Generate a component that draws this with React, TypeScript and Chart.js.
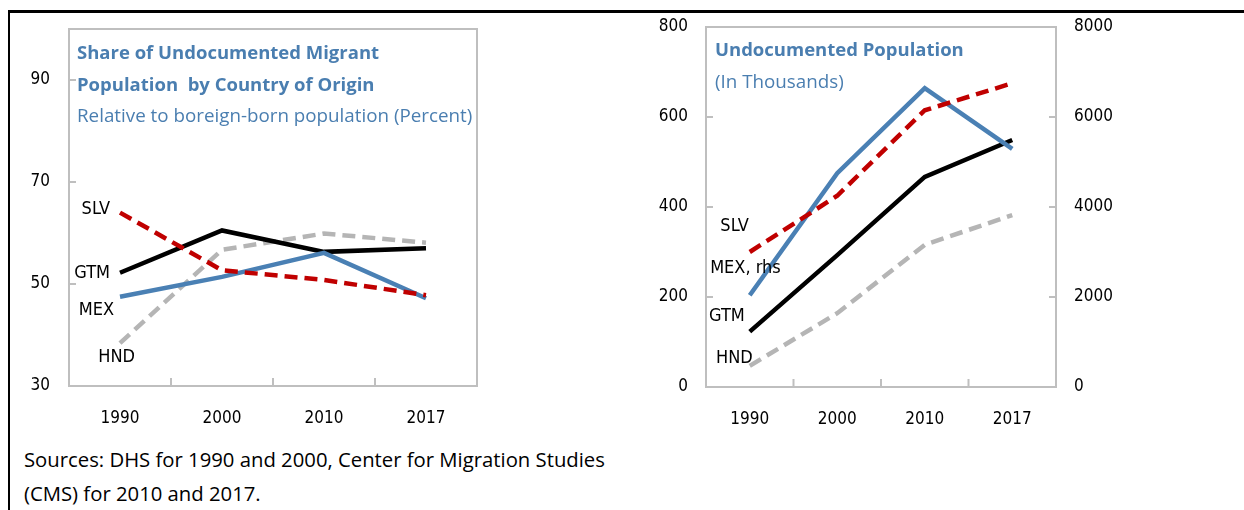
import React, { useEffect, useRef } from 'react';
import { Chart, registerables } from 'chart.js';

Chart.register(...registerables);

// ---------- data ----------
const years = ['1990', '2000', '2010', '2017'];

// Left panel: share of undocumented migrants (percent)
const shareSLV = [64.0, 52.7, 50.8, 47.8];
const shareMEX = [47.5, 51.4, 56.1, 47.2];
const shareGTM = [52.2, 60.5, 56.3, 57.0];
const shareHND = [38.4, 56.7, 59.9, 58.1];
const shareTicks = [30, 50, 70, 90];

// Right panel: undocumented population (thousands); MEX on right axis
const popSLV = [300, 425, 615, 675];
const popMEX = [2040, 4750, 6640, 5290];
const popGTM = [123, 293, 467, 549];
const popHND = [47, 164, 316, 382];
const popTicksL = [0, 200, 400, 600, 800];
const popTicksR = [0, 2000, 4000, 6000, 8000];

// ---------- styles ----------
const FONT = "'Open Sans', 'Noto Sans', sans-serif";
const NARROW = "'Liberation Sans Narrow', 'DejaVu Sans Condensed', 'Open Sans', sans-serif";
const BLUE = '#4A80B4';
const TITLE_BLUE = '#4A7EB0';
const RED = '#C00000';
const GRAY = '#B5B5B5';
const FRAME = '#BFBFBF';
const DASH = [13, 7];

type SeriesLabel = { text: string; ds: number; dx: number; dy: number };

function makeFramePlugin() {
  return {
    id: 'frameTicks',
    beforeDatasetsDraw(chart: any) {
      const { ctx, chartArea: a, scales } = chart;
      ctx.save();
      ctx.strokeStyle = FRAME;
      ctx.lineWidth = 2;
      ctx.strokeRect(a.left, a.top, a.right - a.left, a.bottom - a.top);
      const seg = (x1: number, y1: number, x2: number, y2: number) => {
        ctx.beginPath();
        ctx.moveTo(x1, y1);
        ctx.lineTo(x2, y2);
        ctx.stroke();
      };
      const y = scales.y;
      y.ticks.forEach((t: any) => {
        const py = y.getPixelForValue(t.value);
        if (py > a.top + 1 && py < a.bottom - 1) {
          seg(a.left, py, a.left + 7, py);
          if (scales.y2) seg(a.right - 7, py, a.right, py);
        }
      });
      const x = scales.x;
      for (let i = 0; i < x.ticks.length - 1; i++) {
        const px = (x.getPixelForTick(i) + x.getPixelForTick(i + 1)) / 2;
        seg(px, a.bottom, px, a.bottom - 8);
      }
      ctx.restore();
    },
  };
}

function makeLabelPlugin(labels: SeriesLabel[]) {
  return {
    id: 'seriesLabels',
    afterDatasetsDraw(chart: any) {
      const { ctx } = chart;
      ctx.save();
      ctx.fillStyle = '#000';
      ctx.font = `18px ${NARROW}`;
      ctx.textAlign = 'right';
      ctx.textBaseline = 'middle';
      labels.forEach((l) => {
        const pt = chart.getDatasetMeta(l.ds).data[0];
        ctx.fillText(l.text, pt.x + l.dx, pt.y + l.dy);
      });
      ctx.restore();
    },
  };
}

const line = (data: number[], color: string, dashed: boolean, yAxisID = 'y') => ({
  data,
  borderColor: color,
  backgroundColor: color,
  borderWidth: 4.5,
  borderDash: dashed ? DASH : [],
  pointRadius: 0,
  tension: 0,
  fill: false,
  yAxisID,
});

const tickFont = { family: NARROW, size: 17 };

const fixY = (w: number) => (s: any) => {
  s.width = w;
  s.paddingTop = 0;
  s.paddingBottom = 0;
};
const fixX = (h: number) => (s: any) => {
  s.height = h;
  s.paddingLeft = 0;
  s.paddingRight = 0;
};

export default function App() {
  const leftRef = useRef<HTMLCanvasElement>(null);
  const rightRef = useRef<HTMLCanvasElement>(null);

  useEffect(() => {
    document.body.style.margin = '0';
    const left = new Chart(leftRef.current!, {
      type: 'line',
      data: {
        labels: years,
        datasets: [
          line(shareSLV, RED, true),
          line(shareMEX, BLUE, false),
          line(shareGTM, '#000', false),
          line(shareHND, GRAY, true),
        ] as any,
      },
      options: {
        responsive: false,
        animation: false,
        layout: { padding: { top: 15, right: 143, left: 0, bottom: 0 } },
        plugins: { legend: { display: false }, tooltip: { enabled: false } },
        scales: {
          x: {
            offset: true,
            grid: { display: false, drawTicks: false },
            border: { display: false },
            ticks: { padding: 22, color: '#000', font: tickFont, maxRotation: 0 },
            afterFit: fixX(54),
          },
          y: {
            min: 30,
            max: 100,
            afterBuildTicks: (s: any) => { s.ticks = shareTicks.map((v) => ({ value: v })); },
            grid: { display: false, drawTicks: false },
            border: { display: false },
            ticks: { padding: 19, color: '#000', font: tickFont },
            afterFit: fixY(59),
          },
        },
      } as any,
      plugins: [
        makeFramePlugin(),
        makeLabelPlugin([
          { text: 'SLV', ds: 0, dx: -10, dy: -3 },
          { text: 'GTM', ds: 2, dx: -10, dy: 1 },
          { text: 'MEX', ds: 1, dx: -6, dy: 14 },
          { text: 'HND', ds: 3, dx: 15, dy: 14 },
        ]),
      ],
    });

    const right = new Chart(rightRef.current!, {
      type: 'line',
      data: {
        labels: years,
        datasets: [
          line(popSLV, RED, true),
          line(popMEX, BLUE, false, 'y2'),
          line(popGTM, '#000', false),
          line(popHND, GRAY, true),
        ] as any,
      },
      options: {
        responsive: false,
        animation: false,
        layout: { padding: { top: 13, right: 128, left: 0, bottom: 0 } },
        plugins: { legend: { display: false }, tooltip: { enabled: false } },
        scales: {
          x: {
            offset: true,
            grid: { display: false, drawTicks: false },
            border: { display: false },
            ticks: { padding: 22, color: '#000', font: tickFont, maxRotation: 0 },
            afterFit: fixX(53),
          },
          y: {
            position: 'left',
            min: 0,
            max: 800,
            afterBuildTicks: (s: any) => { s.ticks = popTicksL.map((v) => ({ value: v })); },
            grid: { display: false, drawTicks: false },
            border: { display: false },
            ticks: { padding: 18, color: '#000', font: tickFont, callback: (v: any) => String(v) },
            afterFit: fixY(76),
          },
          y2: {
            position: 'right',
            min: 0,
            max: 8000,
            afterBuildTicks: (s: any) => { s.ticks = popTicksR.map((v) => ({ value: v })); },
            grid: { display: false, drawTicks: false },
            border: { display: false },
            ticks: { padding: 18, color: '#000', font: tickFont, callback: (v: any) => String(v) },
            afterFit: fixY(60),
          },
        },
      } as any,
      plugins: [
        makeFramePlugin(),
        makeLabelPlugin([
          { text: 'SLV', ds: 0, dx: -1, dy: -26 },
          { text: 'MEX, rhs', ds: 1, dx: 31, dy: -27 },
          { text: 'GTM', ds: 2, dx: -5, dy: -15 },
          { text: 'HND', ds: 3, dx: 3, dy: -8 },
        ]),
      ],
    });

    return () => {
      left.destroy();
      right.destroy();
    };
  }, []);

  const txt = (extra: React.CSSProperties): React.CSSProperties => ({
    position: 'absolute',
    whiteSpace: 'pre',
    lineHeight: 1,
    fontFamily: FONT,
    ...extra,
  });

  return (
    <div style={{ position: 'relative', width: 1244, height: 510, background: '#fff', overflow: 'hidden' }}>
      <div style={{ position: 'absolute', left: 8, top: 10, width: 1236, height: 3, background: '#000' }} />
      <div style={{ position: 'absolute', left: 8, top: 10, width: 2, height: 500, background: '#000' }} />
      <canvas ref={leftRef} width={610} height={426} style={{ position: 'absolute', left: 10, top: 14, width: 610, height: 426 }} />
      <canvas ref={rightRef} width={614} height={426} style={{ position: 'absolute', left: 630, top: 14, width: 614, height: 426 }} />

      <div style={txt({ left: 77, top: 43, fontSize: 18.5, fontWeight: 700, color: TITLE_BLUE })}>Share of Undocumented Migrant</div>
      <div style={txt({ left: 77, top: 75, fontSize: 18.5, fontWeight: 700, color: TITLE_BLUE })}>Population  by Country of Origin</div>
      <div style={txt({ left: 77, top: 106, fontSize: 18.8, color: TITLE_BLUE })}>Relative to boreign-born population (Percent)</div>

      <div style={txt({ left: 715, top: 40, fontSize: 18.5, fontWeight: 700, color: TITLE_BLUE })}>Undocumented Population</div>
      <div style={txt({ left: 715, top: 72, fontSize: 18.8, color: TITLE_BLUE })}>(In Thousands)</div>

      <div style={txt({ left: 24, top: 449, fontSize: 20.3, color: '#000' })}>Sources: DHS for 1990 and 2000, Center for Migration Studies</div>
      <div style={txt({ left: 24, top: 483, fontSize: 20.3, color: '#000' })}>(CMS) for 2010 and 2017.</div>
    </div>
  );
}
